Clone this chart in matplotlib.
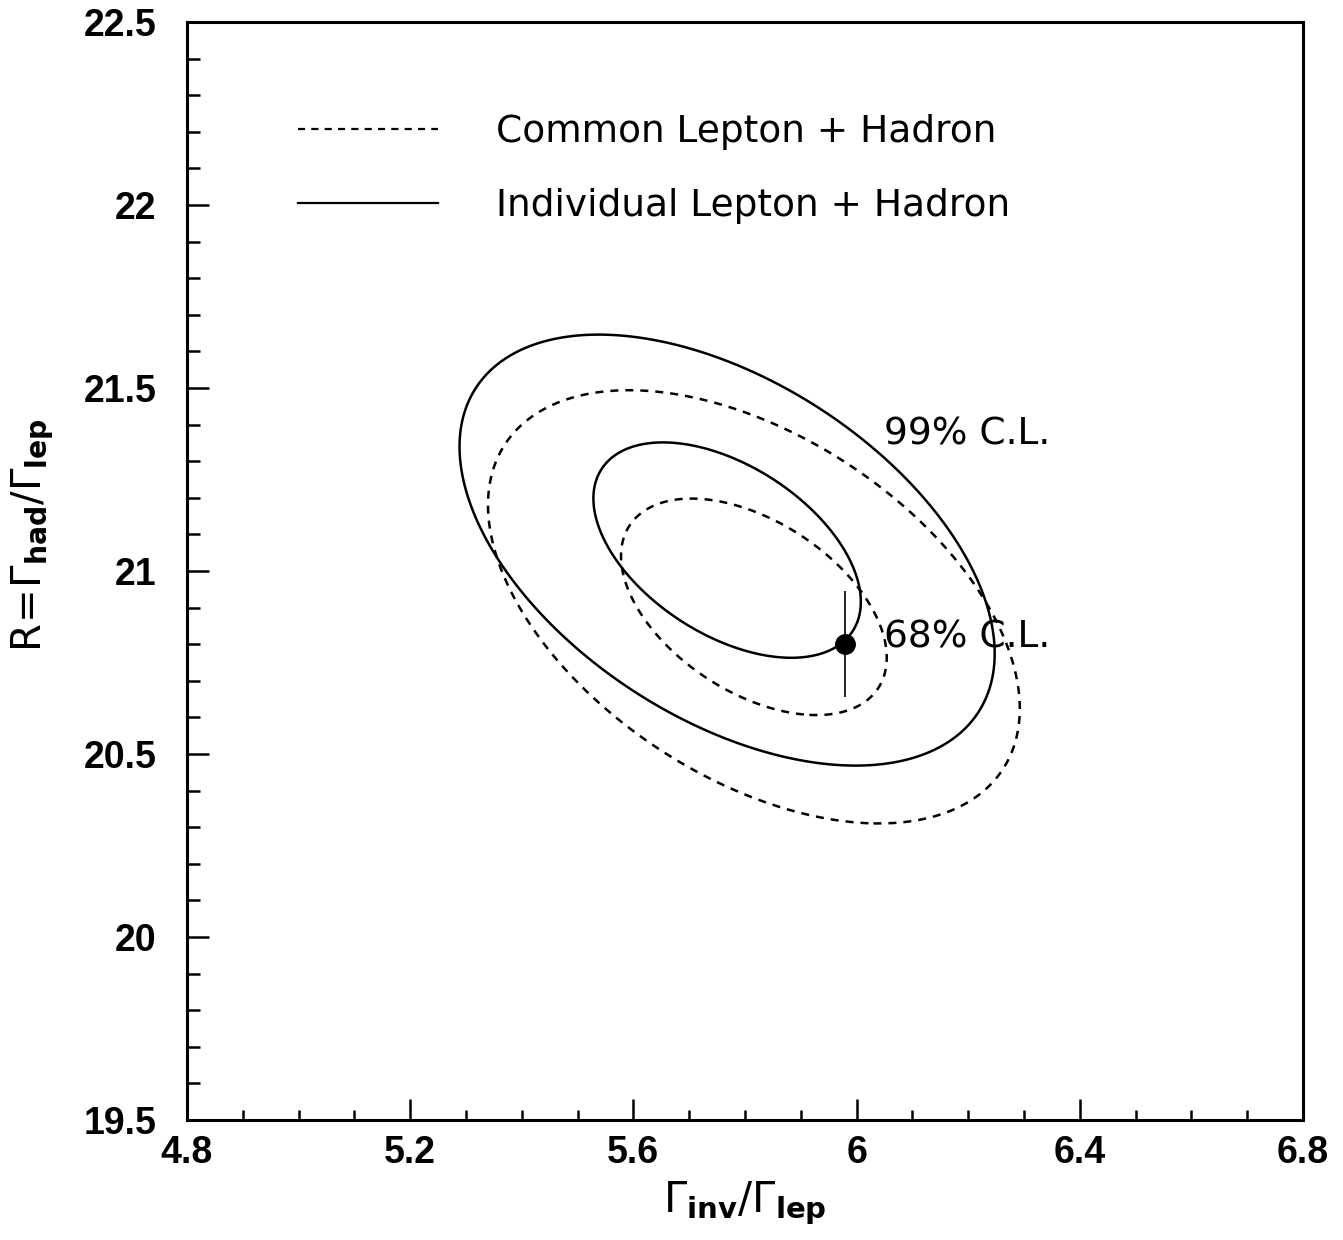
import numpy as np
import matplotlib.pyplot as plt
from matplotlib.lines import Line2D
from matplotlib.ticker import MultipleLocator

# two fits: centre, widths, correlation
fits = ['Common Lepton + Hadron', 'Individual Lepton + Hadron']
centre_x = [5.816, 5.768]
centre_y = [20.902, 21.057]
sigma_x = [0.157, 0.158]
sigma_y = [0.195, 0.194]
rho = [-0.47, -0.48]
styles = ['dashed', 'solid']

# delta chi2 in 2D for 68% and 99% C.L.
cl_levels = [2.30, 9.21]
cl_labels = ['68% C.L.', '99% C.L.']
cl_label_x = [6.05, 6.05]
cl_label_y = [20.79, 21.345]

# standard model point
sm_x = 5.98
sm_y = 20.80
sm_yerr = 0.145

xlim = (4.8, 6.8)
ylim = (19.5, 22.5)

plt.rcParams['lines.dashed_pattern'] = [3.2, 2.8]

fig = plt.figure(figsize=(13.43, 12.4), dpi=100)
ax = fig.add_axes([0.1392, 0.0968, 0.831, 0.8855])

gx, gy = np.meshgrid(np.linspace(xlim[0], xlim[1], 900), np.linspace(ylim[0], ylim[1], 900))
for i in range(len(fits)):
    u = (gx - centre_x[i]) / sigma_x[i]
    v = (gy - centre_y[i]) / sigma_y[i]
    chi2 = (u**2 + v**2 - 2 * rho[i] * u * v) / (1 - rho[i]**2)
    ax.contour(gx, gy, chi2, levels=cl_levels, colors='black', linewidths=1.8, linestyles=styles[i])

ax.errorbar(sm_x, sm_y, yerr=sm_yerr, fmt='o', color='black', ms=14, elinewidth=1.2, capsize=0)

for lab, tx, ty in zip(cl_labels, cl_label_x, cl_label_y):
    ax.text(tx, ty, lab, fontsize=27, family='DejaVu Sans', va='baseline', ha='left')

# legend
handles = [Line2D([], [], color='black', lw=1.6, ls=s) for s in styles]
ax.legend(handles, fits, loc='upper left', bbox_to_anchor=(0.0995, 0.916), frameon=False,
          fontsize=27, handlelength=3.73, handletextpad=1.55, labelspacing=1.02,
          borderpad=0, borderaxespad=0)

ax.set_xlim(xlim)
ax.set_ylim(ylim)
ax.xaxis.set_major_locator(MultipleLocator(0.4))
ax.xaxis.set_minor_locator(MultipleLocator(0.1))
ax.yaxis.set_major_locator(MultipleLocator(0.5))
ax.yaxis.set_minor_locator(MultipleLocator(0.1))
ax.xaxis.set_major_formatter(plt.FuncFormatter(lambda v, p: f'{v:g}'))
ax.yaxis.set_major_formatter(plt.FuncFormatter(lambda v, p: f'{v:g}'))

ax.tick_params(axis='both', which='both', direction='in', top=False, right=False, width=1.8)
ax.tick_params(axis='x', which='major', length=15, pad=11, labelsize=27)
ax.tick_params(axis='x', which='minor', length=7)
ax.tick_params(axis='y', which='major', length=16, pad=22, labelsize=27)
ax.tick_params(axis='y', which='minor', length=9)
for lab in ax.get_xticklabels() + ax.get_yticklabels():
    lab.set_family('Liberation Sans')
    lab.set_fontweight('bold')
for sp in ax.spines.values():
    sp.set_linewidth(2.2)

ax.set_xlabel(r'$\Gamma_{\mathbf{inv}}/\Gamma_{\mathbf{lep}}$', fontsize=30)
ax.set_ylabel(r'$\mathrm{R}\!=\!\Gamma_{\mathbf{had}}/\Gamma_{\mathbf{lep}}$', fontsize=29)
ax.xaxis.set_label_coords(0.5, -0.054)
ax.yaxis.set_label_coords(-0.117, 0.533)

fig.savefig('out.png', dpi=100)
